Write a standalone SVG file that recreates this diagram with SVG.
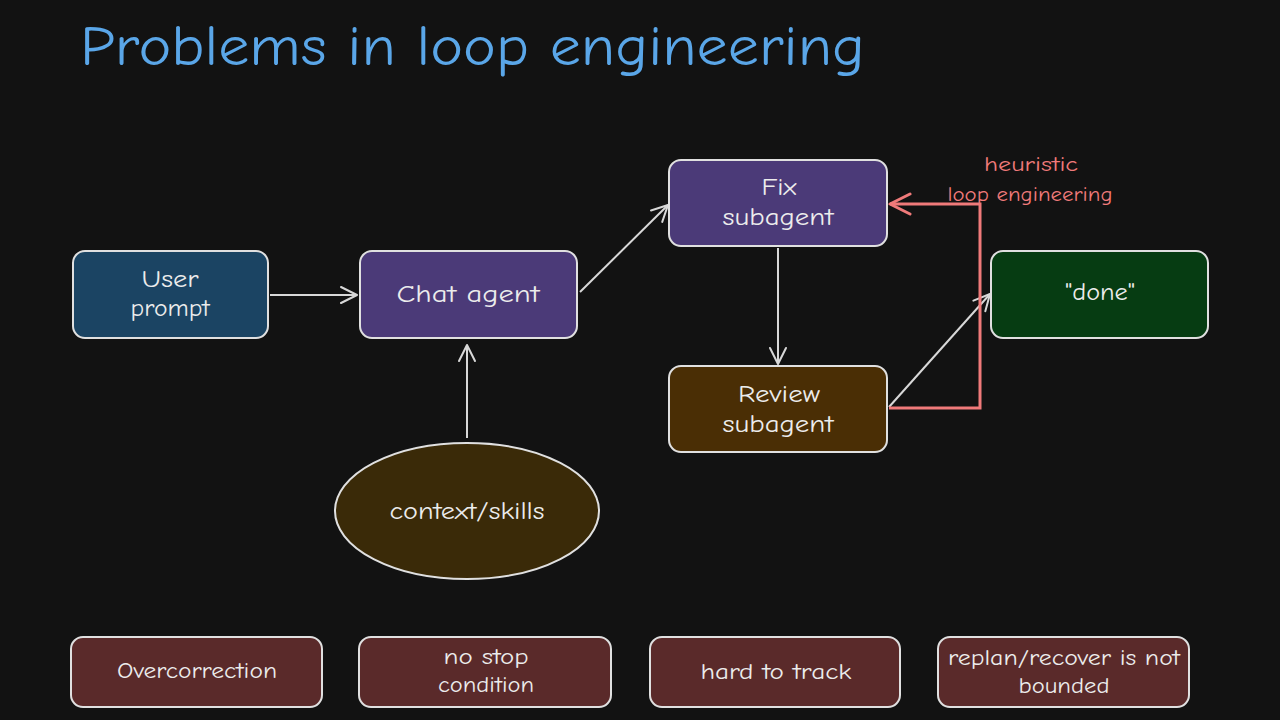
<svg xmlns="http://www.w3.org/2000/svg" width="1280" height="720" viewBox="0 0 1280 720">
<defs>
<marker id="ah" viewBox="0 0 20 20" refX="18" refY="10" markerWidth="20" markerHeight="20" markerUnits="userSpaceOnUse" orient="auto">
<path d="M2,2 L18,10 L2,18" fill="none" stroke="#d8d8d8" stroke-width="2" stroke-linecap="round" stroke-linejoin="round"/>
</marker>
<marker id="ahr" viewBox="0 0 24 24" refX="22" refY="12" markerWidth="24" markerHeight="24" markerUnits="userSpaceOnUse" orient="auto">
<path d="M2,2 L22,12 L2,22" fill="none" stroke="#f07a7a" stroke-width="3" stroke-linecap="round" stroke-linejoin="round"/>
</marker>
</defs>
<style>
.box{stroke:#e0e0e0;stroke-width:2}
.t{font-family:"Comic Neue","Liberation Sans","DejaVu Sans",sans-serif;fill:#ececec;text-anchor:middle;font-size:25px}
.bt{font-family:"Comic Neue","Liberation Sans","DejaVu Sans",sans-serif;fill:#ececec;text-anchor:middle;font-size:23px}
.rt{font-family:"Comic Neue","Liberation Sans","DejaVu Sans",sans-serif;fill:#f07a7a;text-anchor:middle;font-size:21px}
.c{stroke:#d8d8d8;stroke-width:2;fill:none}
.r{stroke:#f07a7a;stroke-width:3;fill:none}
</style>
<rect width="1280" height="720" fill="#121212"/>
<text x="80" y="65" font-family="Comic Neue, Liberation Sans, DejaVu Sans, sans-serif" font-size="56" fill="#5aa6e8" textLength="785" lengthAdjust="spacingAndGlyphs">Problems in loop engineering</text>

<g id="connectors">
<line class="c" x1="270" y1="295" x2="357" y2="295" marker-end="url(#ah)"/>
<line class="c" x1="580" y1="292" x2="668" y2="205" marker-end="url(#ah)"/>
<line class="c" x1="778" y1="248" x2="778" y2="364" marker-end="url(#ah)"/>
<line class="c" x1="467" y1="438" x2="467" y2="345" marker-end="url(#ah)"/>
<line class="c" x1="889" y1="407" x2="990" y2="294" marker-end="url(#ah)"/>
<polyline class="r" points="889,408 980,408 980,204 890,204" marker-end="url(#ahr)"/>
<text class="rt" x="1031" y="171" textLength="94" lengthAdjust="spacingAndGlyphs">heuristic</text>
<text class="rt" x="1030" y="201" textLength="165" lengthAdjust="spacingAndGlyphs">loop engineering</text>
</g>

<g id="user-prompt">
<rect class="box" x="73" y="251" width="195" height="87" rx="12" fill="#1b4463"/>
<text class="t" x="170" y="287" textLength="57" lengthAdjust="spacingAndGlyphs">User</text>
<text class="t" x="170" y="316" textLength="79" lengthAdjust="spacingAndGlyphs">prompt</text>
</g>
<g id="chat-agent">
<rect class="box" x="360" y="251" width="217" height="87" rx="12" fill="#4b3a78"/>
<text class="t" x="468" y="302" textLength="143" lengthAdjust="spacingAndGlyphs">Chat agent</text>
</g>
<g id="fix-subagent">
<rect class="box" x="669" y="160" width="218" height="86" rx="12" fill="#4b3a78"/>
<text class="t" x="779" y="195" textLength="35" lengthAdjust="spacingAndGlyphs">Fix</text>
<text class="t" x="778" y="225" textLength="111" lengthAdjust="spacingAndGlyphs">subagent</text>
</g>
<g id="review-subagent">
<rect class="box" x="669" y="366" width="218" height="86" rx="12" fill="#4a2e05"/>
<text class="t" x="779" y="402" textLength="82" lengthAdjust="spacingAndGlyphs">Review</text>
<text class="t" x="778" y="432" textLength="111" lengthAdjust="spacingAndGlyphs">subagent</text>
</g>
<g id="done">
<rect class="box" x="991" y="251" width="217" height="87" rx="12" fill="#063c12"/>
<text class="t" x="1100" y="300" textLength="70" lengthAdjust="spacingAndGlyphs">"done"</text>
</g>
<g id="context-skills">
<ellipse class="box" cx="467" cy="511" rx="132" ry="68" fill="#3a2a08"/>
<text class="t" x="467" y="519" textLength="155" lengthAdjust="spacingAndGlyphs">context/skills</text>
</g>

<g id="overcorrection">
<rect class="box" x="71" y="637" width="251" height="70" rx="12" fill="#5a2a2a"/>
<text class="bt" x="197" y="678" textLength="160" lengthAdjust="spacingAndGlyphs">Overcorrection</text>
</g>
<g id="no-stop">
<rect class="box" x="359" y="637" width="252" height="70" rx="12" fill="#5a2a2a"/>
<text class="bt" x="486" y="664" textLength="85" lengthAdjust="spacingAndGlyphs">no stop</text>
<text class="bt" x="486" y="692" textLength="96" lengthAdjust="spacingAndGlyphs">condition</text>
</g>
<g id="hard-to-track">
<rect class="box" x="650" y="637" width="250" height="70" rx="12" fill="#5a2a2a"/>
<text class="bt" x="776" y="679" textLength="151" lengthAdjust="spacingAndGlyphs">hard to track</text>
</g>
<g id="replan">
<rect class="box" x="938" y="637" width="251" height="70" rx="12" fill="#5a2a2a"/>
<text class="bt" x="1064" y="665" textLength="232" lengthAdjust="spacingAndGlyphs">replan/recover is not</text>
<text class="bt" x="1064" y="693" textLength="91" lengthAdjust="spacingAndGlyphs">bounded</text>
</g>
</svg>
